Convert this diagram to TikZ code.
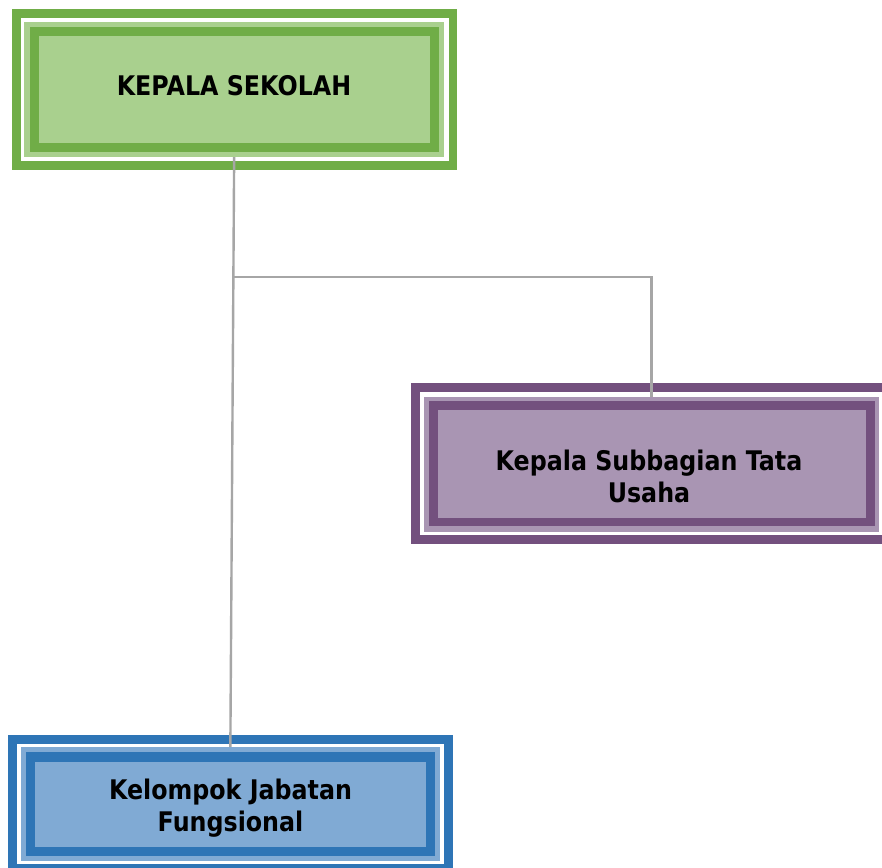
\documentclass[tikz,border=0pt]{standalone}
\usepackage{fontspec}
\setmainfont{DejaVu Sans}[BoldFeatures={FakeStretch=0.88}]
\usetikzlibrary{calc}
\definecolor{gdark}{HTML}{70AD47}
\definecolor{glight}{HTML}{A9D08E}
\definecolor{pdark}{HTML}{73507E}
\definecolor{plight}{HTML}{A995B3}
\definecolor{bdark}{HTML}{2E75B6}
\definecolor{blight}{HTML}{80AAD4}
\definecolor{conn}{HTML}{A6A6A6}
\tikzset{
  band/.style={draw=#1, rectangle, inner sep=0pt, outer sep=0pt},
  lightbox/.style={fill=#1, rectangle, inner sep=0pt, outer sep=0pt},
  label/.style={font=\bfseries\fontsize{27}{32}\selectfont, align=center, inner sep=0pt, text=black},
  connector/.style={draw=conn, line width=2.4pt}
}
\begin{document}
\begin{tikzpicture}[x=1pt,y=-1pt]
\clip (0,0) rectangle (882,867);
\fill[white] (0,0) rectangle (882,867);
% outer bands
\node[band=gdark, line width=8.7pt, minimum width=436.3pt, minimum height=152.3pt] (ks-out) at (234.8,89.5) {};
\node[band=pdark, line width=8.7pt, minimum width=472.3pt, minimum height=152pt] (kst-out) at (651.9,463.8) {};
\node[band=bdark, line width=8.9pt, minimum width=435.4pt, minimum height=129.3pt] (kjf-out) at (230.5,804.15) {};
% light boxes
\node[lightbox=glight, minimum width=420.3pt, minimum height=134.7pt] (ks) at (234.15,89.35) {};
\node[lightbox=plight, minimum width=455.3pt, minimum height=135.6pt] (kst) at (651.65,464.5) {};
\node[lightbox=blight, minimum width=419.3pt, minimum height=113.7pt] (kjf) at (230.35,804.15) {};
% connectors
\coordinate (j) at ($(ks.south)!0.204!(kjf.north)$);
\draw[connector] (ks.south) -- (kjf.north);
\draw[connector] (j) -| (kst.north);
% redraw light boxes above connectors
\fill[glight] (ks.south west) rectangle (ks.north east);
\fill[plight] (kst.south west) rectangle (kst.north east);
\fill[blight] (kjf.south west) rectangle (kjf.north east);
% inner bands
\node[band=gdark, line width=9pt, minimum width=400.3pt, minimum height=116.6pt] (ks-in) at (234.65,89.5) {};
\node[band=pdark, line width=8.7pt, minimum width=437pt, minimum height=116.5pt] (kst-in) at (651.7,463.75) {};
\node[band=bdark, line width=9.3pt, minimum width=400pt, minimum height=94.3pt] (kjf-in) at (230.35,804.15) {};
% texts
\node[label] (t1) at (234,86) {KEPALA SEKOLAH};
\node[label] (t2) at (649,476.5) {Kepala Subbagian Tata\\Usaha};
\node[label] (t3) at (230.5,808) {Kelompok Jabatan\\Fungsional};
\end{tikzpicture}
\end{document}
